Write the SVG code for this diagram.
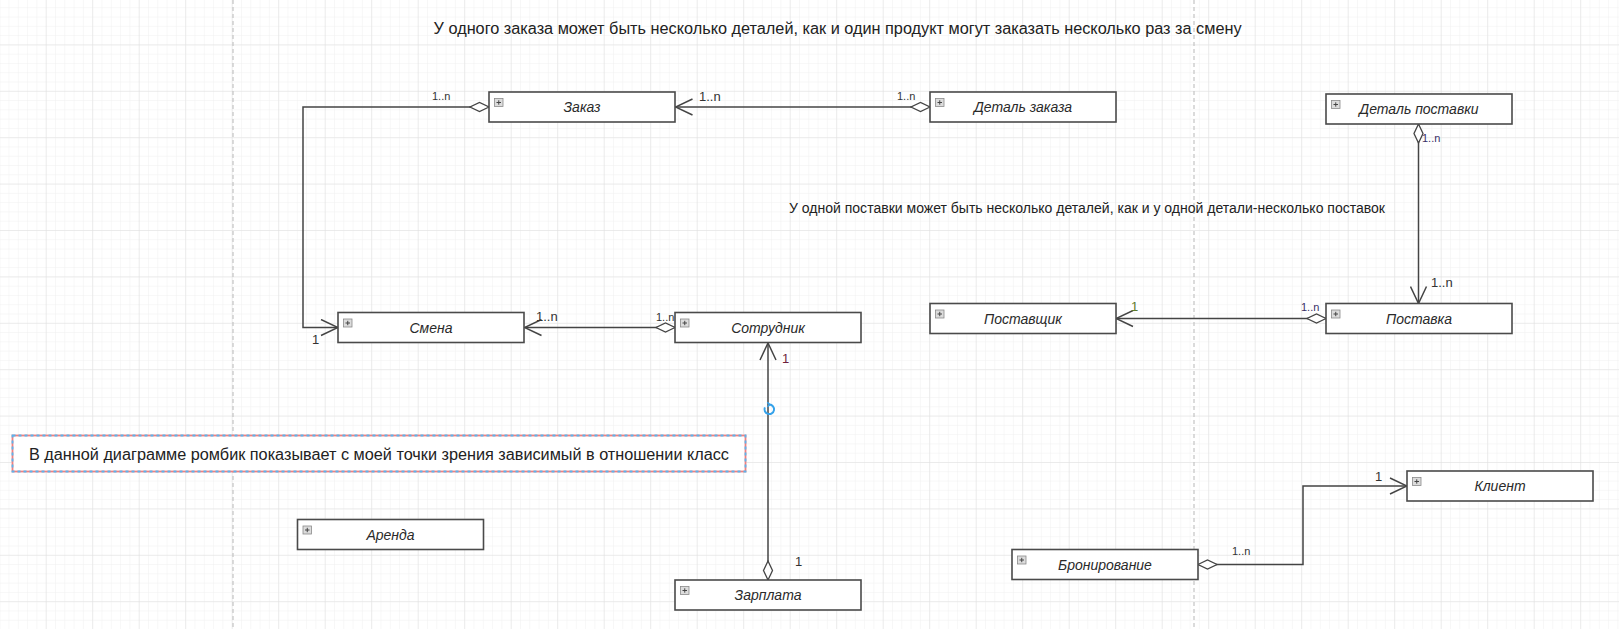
<svg xmlns="http://www.w3.org/2000/svg" width="1619" height="629" viewBox="0 0 1619 629">
<style>
.box{fill:#fff;stroke:#4a4a4a;stroke-width:1.6}
.lbl{font-family:"Liberation Sans",Arial,sans-serif;font-style:italic;font-size:14px;fill:#2a2a2a;text-anchor:middle}
.ico{fill:#dcdcdc;stroke:#8a8a8a;stroke-width:0.8}
.icp{stroke:#444;stroke-width:1;fill:none}
.con{fill:none;stroke:#444;stroke-width:1.5}
.m{font-family:"Liberation Sans",Arial,sans-serif;fill:#333}
.s{font-size:11px}
.b{font-size:13px}
.t{font-family:"Liberation Sans",Arial,sans-serif;fill:#222}
</style>
<defs>
<pattern id="minor" x="45.7" y="44.4" width="9.3" height="9.28" patternUnits="userSpaceOnUse">
<path d="M0,0 V9.28 M0,0 H9.3" fill="none" stroke="#f0f0f0" stroke-width="1"/>
</pattern>
<pattern id="major" x="45.7" y="44.4" width="46.5" height="46.4" patternUnits="userSpaceOnUse">
<path d="M0,0 V46.4 M0,0 H46.5" fill="none" stroke="#e0e0e0" stroke-width="1"/>
</pattern>
<marker id="arr" viewBox="-18 -9 19 18" refX="0" refY="0" markerWidth="19" markerHeight="18" markerUnits="userSpaceOnUse" orient="auto">
<path d="M-17,-8 L0,0 L-17,8" fill="none" stroke="#444" stroke-width="1.5"/>
</marker>
<marker id="dia" viewBox="-1 -6 21 12" refX="0" refY="0" markerWidth="21" markerHeight="12" markerUnits="userSpaceOnUse" orient="auto">
<path d="M0,0 L9.5,-4.5 L19,0 L9.5,4.5 Z" fill="#fff" stroke="#444" stroke-width="1.3"/>
</marker>
</defs>
<rect width="1619" height="629" fill="#fff"/>
<rect width="1619" height="629" fill="url(#minor)"/>
<rect width="1619" height="629" fill="url(#major)"/>
<g id="pagebreaks" stroke="#c4c4c4" stroke-width="1.2" stroke-dasharray="4 3">
<line x1="233" y1="0" x2="233" y2="629"/>
<line x1="1194" y1="0" x2="1194" y2="629"/>
</g>

<text id="note-top" class="t" x="433.6" y="34" font-size="16" textLength="808" lengthAdjust="spacingAndGlyphs">У одного заказа может быть несколько деталей, как и один продукт могут заказать несколько раз за смену</text>
<text id="note-mid" class="t" x="789" y="213" font-size="14" textLength="596" lengthAdjust="spacingAndGlyphs">У одной поставки может быть несколько деталей, как и у одной детали-несколько поставок</text>

<g id="note-box">
<rect x="12.5" y="435.5" width="733" height="36" fill="#fff" stroke="#f08080" stroke-width="1.8"/>
<rect x="12.5" y="435.5" width="733" height="36" fill="none" stroke="#5ab4ee" stroke-width="1.8" stroke-dasharray="3 3"/>
<text class="t" x="29" y="459.5" font-size="16" textLength="700" lengthAdjust="spacingAndGlyphs">В данной диаграмме ромбик показывает с моей точки зрения зависимый в отношении класс</text>
</g>

<g id="connectors">
<path class="con" d="M489,107 H303 V327.5 H338" marker-start="url(#dia)" marker-end="url(#arr)"/>
<path class="con" d="M930,107 H675.5" marker-start="url(#dia)" marker-end="url(#arr)"/>
<path class="con" d="M675,327.5 H524.5" marker-start="url(#dia)" marker-end="url(#arr)"/>
<path class="con" d="M768,580 V343" marker-start="url(#dia)" marker-end="url(#arr)"/>
<path class="con" d="M1418.5,124 V303.5" marker-start="url(#dia)" marker-end="url(#arr)"/>
<path class="con" d="M1326,318.5 H1116" marker-start="url(#dia)" marker-end="url(#arr)"/>
<path class="con" d="M1198,564.5 H1303 V486 H1407" marker-start="url(#dia)" marker-end="url(#arr)"/>
<g id="conn-labels" class="m">
<text class="s" x="432" y="99.5">1..n</text>
<text class="b" x="699" y="101">1..n</text>
<text class="s" x="897" y="100">1..n</text>
<text class="b" x="312" y="343.5">1</text>
<text class="b" x="536" y="321">1..n</text>
<text class="s" x="656" y="321">1..n</text>
<text class="b" x="782" y="363" fill="#6e1f3c">1</text>
<text class="b" x="795" y="566">1</text>
<text class="s" x="1422" y="142" fill="#3a2f66">1..n</text>
<text class="b" x="1431" y="287">1..n</text>
<text class="b" x="1131" y="310.5" fill="#5f7a2a">1</text>
<text class="s" x="1301" y="311" fill="#3a2f66">1..n</text>
<text class="b" x="1375" y="480.5">1</text>
<text class="s" x="1232" y="555">1..n</text>
</g>
<g id="rotate-handle" fill="none" stroke="#35a2ea" stroke-width="2">
<path d="M764.9,407.3 A4.8,4.8 0 1 0 769.5,404.5"/>
<path d="M767.3,402.3 L769.8,404.5 L767.5,406.8" stroke-width="1.6"/>
</g>
</g>

<g id="zakaz">
<rect class="box" x="489" y="92" width="186" height="30"/>
<rect class="ico" x="494.5" y="98.5" width="8.5" height="8"/><path class="icp" d="M496.5,102.5 H501 M498.75,100.3 V104.7"/>
<text class="lbl" x="582" y="112">Заказ</text>
</g>
<g id="detal-zakaza">
<rect class="box" x="930" y="92" width="186" height="30"/>
<rect class="ico" x="935.5" y="98.5" width="8.5" height="8"/><path class="icp" d="M937.5,102.5 H942 M939.75,100.3 V104.7"/>
<text class="lbl" x="1023" y="112">Деталь заказа</text>
</g>
<g id="detal-postavki">
<rect class="box" x="1326" y="94" width="186" height="30"/>
<rect class="ico" x="1331.5" y="100.5" width="8.5" height="8"/><path class="icp" d="M1333.5,104.5 H1338 M1335.75,102.3 V106.7"/>
<text class="lbl" x="1419" y="114">Деталь поставки</text>
</g>
<g id="smena">
<rect class="box" x="338" y="312.5" width="186" height="30"/>
<rect class="ico" x="343.5" y="319" width="8.5" height="8"/><path class="icp" d="M345.5,323 H350 M347.75,320.8 V325.2"/>
<text class="lbl" x="431" y="332.5">Смена</text>
</g>
<g id="sotrudnik">
<rect class="box" x="675" y="312.5" width="186" height="30"/>
<rect class="ico" x="680.5" y="319" width="8.5" height="8"/><path class="icp" d="M682.5,323 H687 M684.75,320.8 V325.2"/>
<text class="lbl" x="768" y="332.5">Сотрудник</text>
</g>
<g id="postavshik">
<rect class="box" x="930" y="303.5" width="186" height="30"/>
<rect class="ico" x="935.5" y="310" width="8.5" height="8"/><path class="icp" d="M937.5,314 H942 M939.75,311.8 V316.2"/>
<text class="lbl" x="1023" y="323.5">Поставщик</text>
</g>
<g id="postavka">
<rect class="box" x="1326" y="303.5" width="186" height="30"/>
<rect class="ico" x="1331.5" y="310" width="8.5" height="8"/><path class="icp" d="M1333.5,314 H1338 M1335.75,311.8 V316.2"/>
<text class="lbl" x="1419" y="323.5">Поставка</text>
</g>
<g id="klient">
<rect class="box" x="1407" y="471" width="186" height="30"/>
<rect class="ico" x="1412.5" y="477.5" width="8.5" height="8"/><path class="icp" d="M1414.5,481.5 H1419 M1416.75,479.3 V483.7"/>
<text class="lbl" x="1500" y="491">Клиент</text>
</g>
<g id="arenda">
<rect class="box" x="297.5" y="519.5" width="186" height="30"/>
<rect class="ico" x="303" y="526" width="8.5" height="8"/><path class="icp" d="M305,530 H309.5 M307.25,527.8 V532.2"/>
<text class="lbl" x="390.5" y="539.5">Аренда</text>
</g>
<g id="bronirovanie">
<rect class="box" x="1012" y="549.5" width="186" height="30"/>
<rect class="ico" x="1017.5" y="556" width="8.5" height="8"/><path class="icp" d="M1019.5,560 H1024 M1021.75,557.8 V562.2"/>
<text class="lbl" x="1105" y="569.5">Бронирование</text>
</g>
<g id="zarplata">
<rect class="box" x="675" y="580" width="186" height="30"/>
<rect class="ico" x="680.5" y="586.5" width="8.5" height="8"/><path class="icp" d="M682.5,590.5 H687 M684.75,588.3 V592.7"/>
<text class="lbl" x="768" y="600">Зарплата</text>
</g>
</svg>
